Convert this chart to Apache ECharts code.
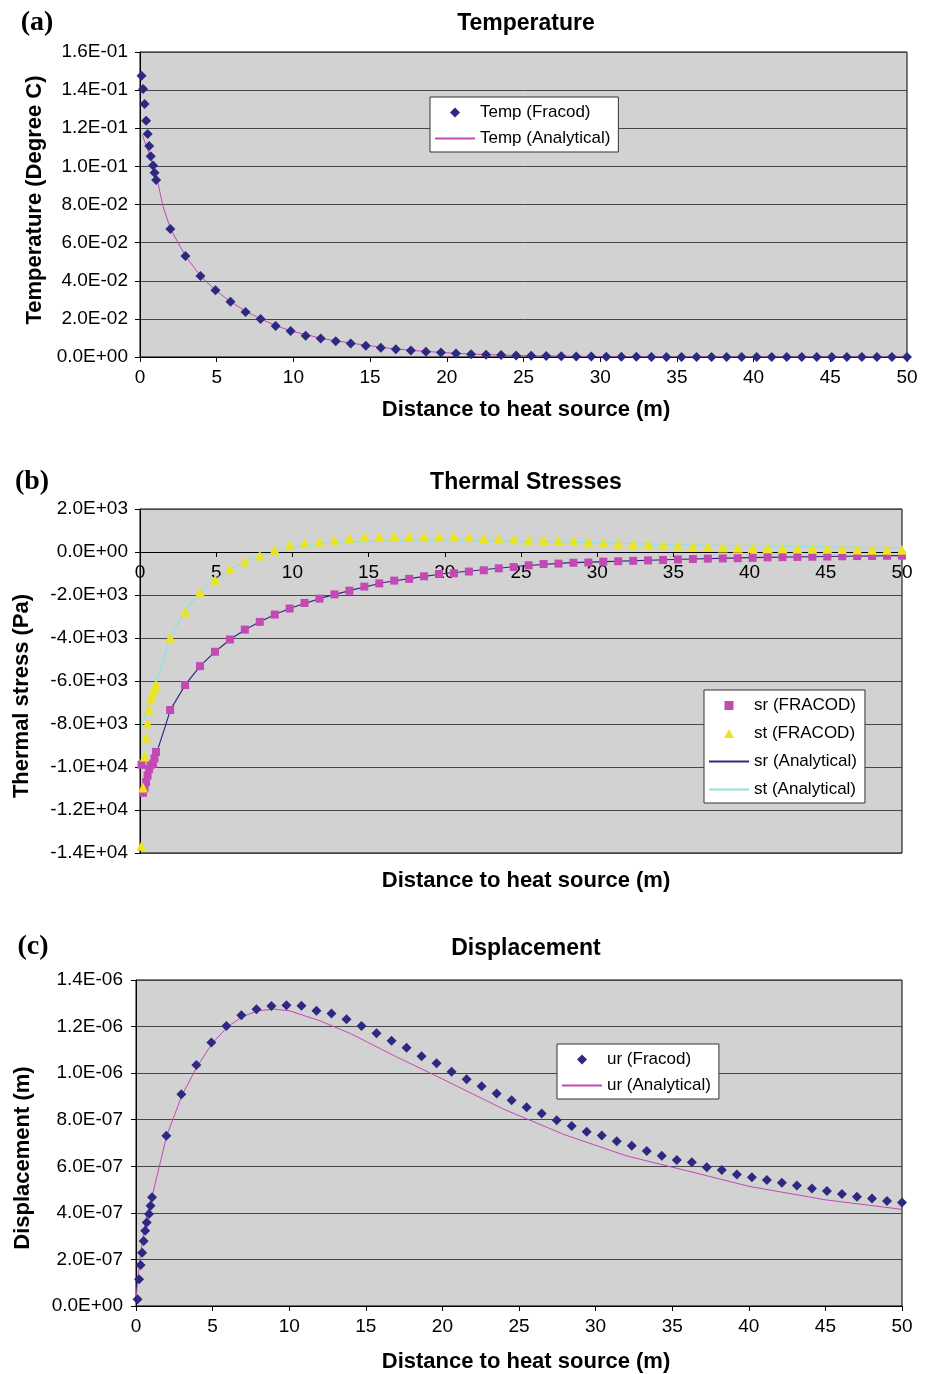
<!DOCTYPE html>
<html>
<head>
<meta charset="utf-8">
<title>Temperature, thermal stresses and displacement</title>
<script src="https://cdn.jsdelivr.net/npm/echarts@6/dist/echarts.min.js"></script>
<style>
  html, body { margin: 0; padding: 0; background: #fff; }
  #main { width: 930px; height: 1374px; }
</style>
</head>
<body>
<div id="main"></div>
<script>
// FRACOD sample points: ten close to the source, then ~1 m apart out to 50 m
const distNear = [0.1, 0.2, 0.3, 0.4, 0.5, 0.6, 0.7, 0.85, 0.95, 1.05];
const distFar = [
  1.98, 2.96, 3.94, 4.92, 5.9, 6.88, 7.86, 8.84, 9.82, 10.8,
  11.78, 12.76, 13.74, 14.72, 15.7, 16.68, 17.66, 18.64, 19.62, 20.6,
  21.58, 22.56, 23.54, 24.52, 25.5, 26.48, 27.46, 28.44, 29.42, 30.4,
  31.38, 32.36, 33.34, 34.32, 35.3, 36.28, 37.26, 38.24, 39.22, 40.2,
  41.18, 42.16, 43.14, 44.12, 45.1, 46.08, 47.06, 48.04, 49.02, 50.0
];

// (a) temperature, degree C
const tempFracod = [
  0.1476, 0.1406, 0.1327, 0.124, 0.117, 0.1107, 0.1053, 0.1004, 0.0967, 0.0928,
  0.0671, 0.053, 0.0425, 0.035, 0.029, 0.0236, 0.02, 0.0163, 0.0136, 0.0112,
  0.0097, 0.0083, 0.0071, 0.0059, 0.0049, 0.0041, 0.0034, 0.0028, 0.0023, 0.0019,
  0.0015, 0.0012, 0.001, 0.0008, 0.0006, 0.0005, 0.0004, 0.0003, 0.0002, 0.00015,
  0.0001, 0.00008, 0.00006, 0.00004, 0.00003, 0.00002, 0.00001, 0.00001, 0, 0,
  0, 0, 0, 0, 0, 0, 0, 0, 0, 0
];
const tempAnaDist = [0.15, 0.4, 0.7, 0.9, 1.1, 1.5, 2, 3, 4, 5, 6, 7, 8, 9, 10, 12, 14, 16, 18, 20, 22, 25, 30, 35, 40, 50];
const tempAna = [0.1165, 0.111, 0.1043, 0.0998, 0.0938, 0.079, 0.067, 0.0525, 0.042, 0.0345, 0.0285, 0.0235, 0.0195, 0.016, 0.0133, 0.0095, 0.007, 0.0048, 0.0033, 0.0022, 0.0014, 0.0007, 0.0002, 0.00005, 0, 0];

// (b) thermal stresses, Pa
const srFracod = [
  -9900, -11200, -11000, -10700, -10400, -10100, -9900, -9850, -9600, -9300,
  -7350, -6190, -5310, -4640, -4070, -3610, -3250, -2910, -2630, -2370,
  -2170, -1970, -1800, -1610, -1460, -1330, -1250, -1130, -1020, -990,
  -910, -850, -760, -700, -620, -560, -540, -500, -490, -450,
  -430, -410, -390, -370, -350, -330, -310, -300, -290, -270,
  -250, -240, -230, -220, -210, -200, -190, -185, -175, -170
];
const stFracod = [
  -13660, -10950, -9510, -8630, -7970, -7320, -6850, -6540, -6300, -6160,
  -3990, -2780, -1870, -1290, -775, -435, -160, 107, 340, 418,
  492, 571, 650, 700, 724, 730, 730, 725, 724, 720,
  700, 640, 617, 590, 571, 560, 540, 524, 480, 430,
  390, 371, 360, 320, 306, 270, 240, 213, 200, 190,
  190, 180, 160, 155, 150, 140, 120, 110, 100, 100
];
const srAnaDist = [1.2, 1.6, 2, 3, 4, 5, 6, 7, 8, 9, 10, 12, 14, 16, 18, 20, 22, 25, 28, 30, 35, 40, 45, 50];
const srAna = [-9100, -8240, -7330, -6150, -5260, -4590, -4020, -3570, -3200, -2860, -2580, -2120, -1750, -1420, -1200, -1000, -860, -650, -510, -460, -350, -260, -210, -170];
const stAnaDist = [0.1, 0.6, 1.1, 2, 3, 4, 5, 6, 7, 8, 9, 10, 10.5, 12, 15, 18, 20, 23, 26, 28, 31, 35, 40, 45, 50];
const stAna = [-8060, -7100, -6000, -3950, -2700, -1850, -1250, -760, -420, -150, 0, 200, 290, 400, 490, 530, 540, 530, 500, 460, 410, 345, 290, 235, 185];

// (c) radial displacement, in 1e-6 m
const urFracod = [
  0.029, 0.115, 0.176, 0.229, 0.279, 0.323, 0.359, 0.395, 0.431, 0.467,
  0.731, 0.909, 1.035, 1.132, 1.202, 1.249, 1.274, 1.288, 1.292, 1.289,
  1.268, 1.256, 1.231, 1.202, 1.171, 1.139, 1.109, 1.073, 1.042, 1.006,
  0.974, 0.944, 0.913, 0.884, 0.853, 0.827, 0.798, 0.773, 0.748, 0.732,
  0.708, 0.688, 0.666, 0.645, 0.627, 0.617, 0.596, 0.584, 0.565, 0.553,
  0.541, 0.529, 0.517, 0.505, 0.494, 0.481, 0.469, 0.462, 0.451, 0.444
];
const urAnaDist = [0, 0.1, 0.3, 0.5, 0.7, 1.05, 2, 3, 4, 5, 6, 7, 8, 9, 10, 12, 14, 17, 20, 24, 28, 32, 36, 40, 45, 50];
const urAna = [0.018, 0.11, 0.225, 0.315, 0.39, 0.47, 0.73, 0.905, 1.03, 1.13, 1.2, 1.245, 1.268, 1.275, 1.268, 1.225, 1.17, 1.07, 0.975, 0.845, 0.735, 0.645, 0.58, 0.514, 0.456, 0.415];

// tick labels
const distTicks = ['0', '5', '10', '15', '20', '25', '30', '35', '40', '45', '50'];
const tempTicks = ['0.0E+00', '2.0E-02', '4.0E-02', '6.0E-02', '8.0E-02', '1.0E-01', '1.2E-01', '1.4E-01', '1.6E-01'];
const stressTicks = ['-1.4E+04', '-1.2E+04', '-1.0E+04', '-8.0E+03', '-6.0E+03', '-4.0E+03', '-2.0E+03', '0.0E+00', '2.0E+03'];
const dispTicks = ['0.0E+00', '2.0E-07', '4.0E-07', '6.0E-07', '8.0E-07', '1.0E-06', '1.2E-06', '1.4E-06'];

const FONT = '"Liberation Sans", Arial, sans-serif';
const NAVY = '#2d2880';
const MAGENTA = '#c349b5';
const YELLOW = '#ece51e';
const CYAN = '#8fe2de';
const DARK = '#2c2a7c';
const PLOT_BG = '#d2d2d2';

// legend marks (path icons keep their aspect inside the 40px legend slot)
const ICON_DIAMOND = 'path://M5,0L10,5L5,10L0,5Z';
const ICON_SQUARE = 'path://M0,0L10,0L10,10L0,10Z';
const ICON_TRIANGLE = 'path://M5,0L10,9L0,9Z';

const dist = distNear.concat(distFar);

function zip(xs, ys) {
  return xs.map((x, i) => [x, ys[i]]);
}

function xAxisFor(gridIndex) {
  return {
    gridIndex, type: 'value', min: 0, max: 50, interval: 5,
    axisLine: { show: true, onZero: false, lineStyle: { color: '#000', width: 1 } },
    axisTick: { show: true, length: 5, lineStyle: { color: '#000' } },
    splitLine: { show: false },
    axisLabel: {
      margin: 11, fontFamily: FONT, fontSize: 19, color: '#000',
      formatter: v => distTicks[Math.round(v / 5)]
    }
  };
}

function yAxisFor(gridIndex, min, max, interval, ticks, margin) {
  return {
    gridIndex, type: 'value', min, max, interval,
    axisLine: { show: true, onZero: false, lineStyle: { color: '#000', width: 1 } },
    axisTick: { show: true, length: 5, lineStyle: { color: '#000' } },
    splitLine: { show: true, lineStyle: { color: '#474747', width: 1 } },
    axisLabel: {
      margin, fontFamily: FONT, fontSize: 19, color: '#000',
      formatter: v => ticks[Math.round((v - min) / interval)]
    }
  };
}

function legendAt(left, top, items, gap, iconSize) {
  return {
    left, top, orient: 'vertical', data: items, selectedMode: false,
    backgroundColor: '#fff', borderColor: '#333', borderWidth: 1,
    padding: [7, 8, 5, 4], itemGap: gap, itemWidth: 40, itemHeight: iconSize,
    symbolKeepAspect: true,
    textStyle: { fontFamily: FONT, fontSize: 17, color: '#000' }
  };
}

// line-only legend entry (hide the dot that line series add to the icon)
function lineItem(name) {
  return { name, itemStyle: { opacity: 0 } };
}

function label(x, y, text, font, rotation) {
  return {
    type: 'text', x, y, rotation: rotation || 0, silent: true,
    style: { text, font, fill: '#000', align: 'center', verticalAlign: 'middle' }
  };
}

const BOLD = 'bold 23px ' + FONT;
const NAME = 'bold 22px ' + FONT;
const PANEL = 'bold 28px "Liberation Serif", "Times New Roman", serif';

const chart = echarts.init(document.getElementById('main'));

chart.setOption({
  animation: false,
  backgroundColor: '#fff',
  grid: [
    { left: 140, top: 52, width: 767, height: 305 },
    { left: 140, top: 509, width: 762, height: 344 },
    { left: 136, top: 980, width: 766, height: 326 }
  ].map(g => Object.assign(g, {
    show: true, backgroundColor: PLOT_BG, borderColor: '#000', borderWidth: 1
  })),
  xAxis: [xAxisFor(0), xAxisFor(1), xAxisFor(2)],
  yAxis: [
    yAxisFor(0, 0, 0.16, 0.02, tempTicks, 12),
    yAxisFor(1, -14000, 2000, 2000, stressTicks, 12),
    yAxisFor(2, 0, 1.4, 0.2, dispTicks, 13)
  ],
  legend: [
    legendAt(430, 97, [
      { name: 'Temp (Fracod)', icon: ICON_DIAMOND },
      lineItem('Temp (Analytical)')
    ], 9, 10),
    legendAt(704, 690, [
      { name: 'sr (FRACOD)', icon: ICON_SQUARE },
      { name: 'st (FRACOD)', icon: ICON_TRIANGLE },
      lineItem('sr (Analytical)'),
      lineItem('st (Analytical)')
    ], 11, 9),
    legendAt(557, 1044, [
      { name: 'ur (Fracod)', icon: ICON_DIAMOND },
      lineItem('ur (Analytical)')
    ], 9, 10)
  ],
  graphic: [
    label(37, 23, '(a)', PANEL),
    label(32, 482, '(b)', PANEL),
    label(33, 947, '(c)', PANEL),
    label(526, 24, 'Temperature', BOLD),
    label(526, 483, 'Thermal Stresses', BOLD),
    label(526, 949, 'Displacement', BOLD),
    label(526, 410, 'Distance to heat source (m)', NAME),
    label(526, 881, 'Distance to heat source (m)', NAME),
    label(526, 1362, 'Distance to heat source (m)', NAME),
    label(35, 200, 'Temperature (Degree C)', NAME, Math.PI / 2),
    label(22, 696, 'Thermal stress (Pa)', NAME, Math.PI / 2),
    label(23, 1158, 'Displacement (m)', NAME, Math.PI / 2)
  ],
  series: [
    {
      name: 'Temp (Analytical)', type: 'line', xAxisIndex: 0, yAxisIndex: 0,
      data: zip(tempAnaDist, tempAna), symbol: 'none',
      lineStyle: { color: MAGENTA, width: 1 }, itemStyle: { color: MAGENTA }, z: 2
    },
    {
      name: 'Temp (Fracod)', type: 'scatter', xAxisIndex: 0, yAxisIndex: 0,
      data: zip(dist, tempFracod), symbol: 'diamond', symbolSize: 10,
      itemStyle: { color: NAVY, opacity: 1 }, z: 3
    },
    {
      name: 'sr (Analytical)', type: 'line', xAxisIndex: 1, yAxisIndex: 1,
      data: zip(srAnaDist, srAna), symbol: 'none',
      lineStyle: { color: DARK, width: 1.2 }, itemStyle: { color: DARK }, z: 2
    },
    {
      name: 'st (Analytical)', type: 'line', xAxisIndex: 1, yAxisIndex: 1,
      data: zip(stAnaDist, stAna), symbol: 'none',
      lineStyle: { color: CYAN, width: 1.2 }, itemStyle: { color: CYAN }, z: 2
    },
    {
      name: 'sr (FRACOD)', type: 'scatter', xAxisIndex: 1, yAxisIndex: 1,
      data: zip(dist, srFracod), symbol: 'rect', symbolSize: 8,
      itemStyle: { color: MAGENTA, opacity: 1 }, z: 3
    },
    {
      name: 'st (FRACOD)', type: 'scatter', xAxisIndex: 1, yAxisIndex: 1,
      data: zip(dist, stFracod), symbol: 'triangle', symbolSize: [10, 10],
      itemStyle: { color: YELLOW, opacity: 1 }, z: 4
    },
    {
      name: 'ur (Analytical)', type: 'line', xAxisIndex: 2, yAxisIndex: 2,
      data: zip(urAnaDist, urAna), symbol: 'none',
      lineStyle: { color: MAGENTA, width: 1 }, itemStyle: { color: MAGENTA }, z: 2
    },
    {
      name: 'ur (Fracod)', type: 'scatter', xAxisIndex: 2, yAxisIndex: 2,
      data: zip(dist, urFracod), symbol: 'diamond', symbolSize: 10,
      itemStyle: { color: NAVY, opacity: 1 }, z: 3
    }
  ]
});

// the stress panel's distance axis sits on the zero-stress line:
// shift it up from the grid bottom by the pixel gap the y scale gives
const zeroY = chart.convertToPixel({ yAxisIndex: 1 }, 0);
const floorY = chart.convertToPixel({ yAxisIndex: 1 }, -14000);
chart.setOption({ xAxis: [{}, { offset: zeroY - floorY }, {}] });
</script>
</body>
</html>
